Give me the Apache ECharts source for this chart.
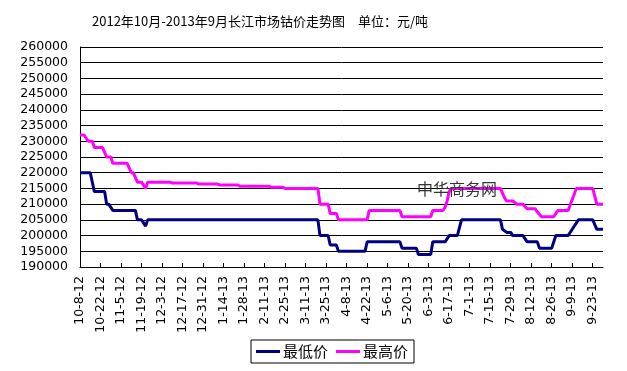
<!DOCTYPE html>
<html>
<head>
<meta charset="utf-8">
<script src="https://cdn.jsdelivr.net/npm/echarts@6/dist/echarts.min.js"></script>
<style>html,body{margin:0;padding:0;background:#fff}#c{width:627px;height:371px}</style>
</head>
<body>
<div id="c"></div>
<script>
// Tick labels shown on the x axis (every two weeks)
var tickLabels = ['10-8-12','10-22-12','11-5-12','11-19-12','12-3-12','12-17-12','12-31-12',
  '1-14-13','1-28-13','2-11-13','2-25-13','3-11-13','3-25-13','4-8-13','4-22-13','5-6-13',
  '5-20-13','6-3-13','6-17-13','7-1-13','7-15-13','7-29-13','8-12-13','8-26-13','9-9-13','9-23-13'];

// Categories: every trading weekday from 2012-10-08 to 2013-09-30
var categories = [];
(function(){
  var d = new Date(2012, 9, 8), end = new Date(2013, 8, 30);
  while (d <= end) {
    var w = d.getDay();
    if (w !== 0 && w !== 6) {
      categories.push((d.getMonth()+1) + '-' + d.getDate() + '-' + String(d.getFullYear()).slice(2));
    }
    d.setDate(d.getDate() + 1);
  }
})();

// 最低价 (lowest price) – points where the line changes
var lowPrice = [
  ['10-8-12',220000],['10-15-12',220000],['10-17-12',214000],['10-24-12',214000],
  ['10-25-12',210000],['10-26-12',210000],['10-30-12',208000],['11-14-12',208000],
  ['11-15-12',205000],['11-19-12',205000],['11-21-12',203000],['11-22-12',205000],
  ['3-19-13',205000],['3-20-13',200000],['3-26-13',200000],['3-27-13',197000],
  ['4-1-13',197000],['4-2-13',195000],['4-19-13',195000],['4-22-13',198000],
  ['5-14-13',198000],['5-15-13',196000],['5-24-13',196000],['5-27-13',194000],
  ['6-4-13',194000],['6-5-13',198000],['6-13-13',198000],['6-17-13',200000],
  ['6-21-13',200000],['6-25-13',205000],['7-22-13',205000],['7-23-13',202000],
  ['7-25-13',201000],['7-29-13',201000],['7-30-13',200000],['8-6-13',200000],
  ['8-8-13',198000],['8-15-13',198000],['8-16-13',196000],['8-26-13',196000],
  ['8-28-13',200000],['9-5-13',200000],['9-9-13',202000],['9-12-13',205000],
  ['9-23-13',205000],['9-25-13',202000],['9-30-13',202000]
];

// 最高价 (highest price)
var highPrice = [
  ['10-8-12',232000],['10-10-12',232000],['10-12-12',230000],['10-16-12',230000],
  ['10-17-12',228000],['10-23-12',228000],['10-25-12',225000],['10-29-12',225000],
  ['10-30-12',223000],['11-8-12',223000],['11-12-12',220000],['11-13-12',220000],
  ['11-15-12',217000],['11-19-12',217000],['11-21-12',215000],['11-22-12',217000],
  ['12-7-12',217000],['12-10-12',216700],['12-26-12',216700],['12-27-12',216400],
  ['1-9-13',216400],['1-10-13',216100],['1-23-13',216100],['1-24-13',215700],
  ['2-13-13',215700],['2-14-13',215400],['2-22-13',215400],['2-25-13',215000],
  ['3-19-13',215000],['3-20-13',210000],['3-26-13',210000],['3-27-13',207000],
  ['4-1-13',207000],['4-2-13',205000],['4-22-13',205000],['4-23-13',208000],
  ['5-14-13',208000],['5-15-13',206000],['6-4-13',206000],['6-5-13',208000],
  ['6-12-13',208000],['6-13-13',209000],['6-14-13',211000],['6-17-13',214000],
  ['6-18-13',215000],['7-22-13',215000],['7-24-13',212000],['7-25-13',211000],
  ['7-30-13',211000],['8-1-13',210000],['8-6-13',210000],['8-8-13',208500],
  ['8-14-13',208500],['8-15-13',207500],['8-19-13',206000],['8-27-13',206000],
  ['8-29-13',208000],['9-5-13',208000],['9-9-13',211500],['9-11-13',215000],
  ['9-23-13',215000],['9-25-13',210000],['9-30-13',210000]
];

var chart = echarts.init(document.getElementById('c'), null, {renderer: 'canvas'});
var isTick = function (idx, val) { return tickLabels.indexOf(val) >= 0; };
chart.setOption({
  animation: false,
  backgroundColor: '#fff',
  title: {
    text: '2012年10月-2013年9月长江市场钴价走势图　单位：元/吨',
    left: 92, top: 15, padding: 0,
    textStyle: {fontSize: 13, fontWeight: 'normal', color: '#000', fontFamily: 'Noto Sans CJK SC'}
  },
  graphic: [{
    type: 'text', left: 417, top: 181, z: 10,
    style: {text: '中华商务网', fill: '#333', font: '16px "Noto Sans CJK SC"'}
  }],
  legend: {
    left: 251, top: 340,
    padding: [4, 6, 4, 5],
    itemGap: 8,
    itemWidth: 24, itemHeight: 3,
    icon: 'rect',
    borderColor: '#000', borderWidth: 1,
    textStyle: {fontSize: 15, color: '#000', fontFamily: 'Noto Sans CJK SC', padding: [0, 0, 0, -2]},
    data: ['最低价', '最高价']
  },
  grid: {left: 80, right: 24, top: 47, bottom: 104, containLabel: false},
  xAxis: {
    type: 'category',
    data: categories,
    boundaryGap: false,
    axisLine: {lineStyle: {color: '#000', width: 1}},
    axisTick: {show: true, inside: true, length: 4, interval: isTick, lineStyle: {color: '#000'}},
    axisLabel: {
      interval: isTick, rotate: 90, margin: 9,
      fontSize: 12.5, color: '#000', fontFamily: 'DejaVu Sans'
    },
    splitLine: {show: false}
  },
  yAxis: {
    type: 'value',
    min: 190000, max: 260000, interval: 5000,
    axisLine: {show: true, lineStyle: {color: '#000', width: 1}},
    axisTick: {show: false},
    axisLabel: {margin: 12, fontSize: 12.5, color: '#000', fontFamily: 'DejaVu Sans',
      formatter: function (v) { return String(v); }},
    splitLine: {show: true, lineStyle: {color: '#000', width: 1}}
  },
  series: [
    {name: '最低价', type: 'line', data: lowPrice, symbol: 'none', showSymbol: false, z: 3,
     itemStyle: {color: '#000080'}, lineStyle: {color: '#000080', width: 3}},
    {name: '最高价', type: 'line', data: highPrice, symbol: 'none', showSymbol: false, z: 3,
     itemStyle: {color: '#FF00FF'}, lineStyle: {color: '#FF00FF', width: 3}}
  ]
});
</script>
</body>
</html>
